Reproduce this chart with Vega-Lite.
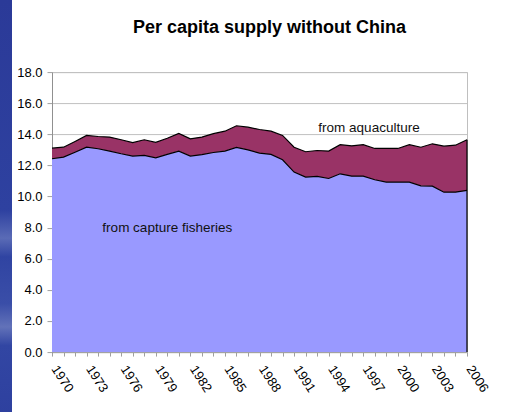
{
  "$schema": "https://vega.github.io/schema/vega-lite/v6.json",
  "background": "white",
  "padding": 0,
  "spacing": 4,
  "center": true,
  "config": {
    "font": "Liberation Sans",
    "axis": {"labelFont": "Liberation Sans", "labelColor": "#000000", "labelFontSize": 13}
  },
  "hconcat": [
    {
      "width": 12,
      "height": 467,
      "view": {"stroke": null},
      "data": {"values": [{}]},
      "mark": {
        "type": "rect",
        "strokeWidth": 0,
        "fill": {
          "gradient": "linear",
          "x1": 0, "y1": 0, "x2": 0, "y2": 1,
          "stops": [
            {"offset": 0, "color": "#2b3a98"},
            {"offset": 0.45, "color": "#2e41a0"},
            {"offset": 0.51, "color": "#5a6bb6"},
            {"offset": 0.55, "color": "#3044a2"},
            {"offset": 0.65, "color": "#3a4ea8"},
            {"offset": 0.7, "color": "#6272b9"},
            {"offset": 0.74, "color": "#3246a3"},
            {"offset": 1, "color": "#2b3c9c"}
          ]
        }
      },
      "encoding": {}
    },
    {
      "width": 415,
      "height": 280,
      "view": {"stroke": "#bfbfbf"},
      "title": {
        "text": "Per capita supply without China",
        "font": "Liberation Sans",
        "fontSize": 18,
        "fontWeight": "bold",
        "color": "#000000",
        "anchor": "middle",
        "frame": "group",
        "baseline": "alphabetic",
        "offset": 15,
        "dx": 10
      },
      "data": {
        "values": [
          {"year": 1970, "capture": 12.43, "total": 13.11},
          {"year": 1971, "capture": 12.53, "total": 13.17},
          {"year": 1972, "capture": 12.85, "total": 13.54},
          {"year": 1973, "capture": 13.17, "total": 13.93},
          {"year": 1974, "capture": 13.07, "total": 13.86},
          {"year": 1975, "capture": 12.92, "total": 13.82},
          {"year": 1976, "capture": 12.75, "total": 13.65},
          {"year": 1977, "capture": 12.6, "total": 13.46},
          {"year": 1978, "capture": 12.64, "total": 13.65},
          {"year": 1979, "capture": 12.49, "total": 13.48},
          {"year": 1980, "capture": 12.71, "total": 13.75},
          {"year": 1981, "capture": 12.92, "total": 14.06},
          {"year": 1982, "capture": 12.6, "total": 13.71},
          {"year": 1983, "capture": 12.69, "total": 13.82},
          {"year": 1984, "capture": 12.83, "total": 14.04},
          {"year": 1985, "capture": 12.92, "total": 14.2},
          {"year": 1986, "capture": 13.16, "total": 14.55},
          {"year": 1987, "capture": 13.0, "total": 14.46},
          {"year": 1988, "capture": 12.79, "total": 14.31},
          {"year": 1989, "capture": 12.71, "total": 14.2},
          {"year": 1990, "capture": 12.36, "total": 13.93},
          {"year": 1991, "capture": 11.57, "total": 13.17},
          {"year": 1992, "capture": 11.25, "total": 12.88},
          {"year": 1993, "capture": 11.29, "total": 12.96},
          {"year": 1994, "capture": 11.16, "total": 12.92},
          {"year": 1995, "capture": 11.46, "total": 13.33},
          {"year": 1996, "capture": 11.31, "total": 13.26},
          {"year": 1997, "capture": 11.31, "total": 13.33},
          {"year": 1998, "capture": 11.08, "total": 13.09},
          {"year": 1999, "capture": 10.93, "total": 13.09},
          {"year": 2000, "capture": 10.93, "total": 13.09},
          {"year": 2001, "capture": 10.93, "total": 13.33},
          {"year": 2002, "capture": 10.69, "total": 13.17},
          {"year": 2003, "capture": 10.67, "total": 13.39},
          {"year": 2004, "capture": 10.28, "total": 13.24},
          {"year": 2005, "capture": 10.28, "total": 13.3},
          {"year": 2006, "capture": 10.39, "total": 13.65}
        ]
      },
      "encoding": {
        "x": {
          "field": "year",
          "type": "quantitative",
          "scale": {"domain": [1970, 2006], "nice": false, "zero": false},
          "axis": {
            "title": null,
            "grid": false,
            "values": [1970, 1971, 1972, 1973, 1974, 1975, 1976, 1977, 1978, 1979, 1980, 1981, 1982, 1983, 1984, 1985, 1986, 1987, 1988, 1989, 1990, 1991, 1992, 1993, 1994, 1995, 1996, 1997, 1998, 1999, 2000, 2001, 2002, 2003, 2004, 2005, 2006],
            "labelExpr": "(datum.value - 1970) % 3 == 0 ? toString(datum.value) : ''",
            "labelAngle": 57,
            "labelAlign": "left",
            "labelBaseline": "top",
            "labelPadding": 7,
            "labelOffset": 7,
            "labelOverlap": false,
            "labelFlush": false,
            "labelBound": false,
            "tickSize": 4,
            "tickColor": "#a0a0a0",
            "domainColor": "#a0a0a0"
          }
        },
        "y": {
          "field": "capture",
          "type": "quantitative",
          "title": null,
          "scale": {"domain": [0, 18], "nice": false},
          "axis": {
            "values": [0, 2, 4, 6, 8, 10, 12, 14, 16, 18],
            "format": ".1f",
            "grid": true,
            "gridColor": "#c0c0c0",
            "tickSize": 5,
            "tickColor": "#a0a0a0",
            "domainColor": "#909090",
            "labelPadding": 5,
            "labelOverlap": false,
            "labelFlush": false
          }
        }
      },
      "layer": [
        {
          "mark": {"type": "area", "color": "#9999ff"}
        },
        {
          "mark": {"type": "area", "color": "#993366"},
          "encoding": {
            "y": {"field": "total", "type": "quantitative", "title": null},
            "y2": {"field": "capture"}
          }
        },
        {
          "mark": {"type": "line", "color": "#000000", "strokeWidth": 1.2}
        },
        {
          "mark": {"type": "line", "color": "#000000", "strokeWidth": 1.2},
          "encoding": {
            "y": {"field": "total", "type": "quantitative", "title": null}
          }
        },
        {
          "transform": [{"filter": "datum.year == 2006"}],
          "mark": {"type": "rule", "color": "#000000", "strokeWidth": 1.2},
          "encoding": {
            "y": {"field": "total", "type": "quantitative", "title": null},
            "y2": {"datum": 0}
          }
        },
        {
          "data": {
            "values": [
              {"label": "from aquaculture", "year": 1997.5, "value": 14.16},
              {"label": "from capture fisheries", "year": 1980.0, "value": 7.73}
            ]
          },
          "mark": {"type": "text", "font": "Liberation Sans", "fontSize": 13.5, "color": "#111111", "align": "center", "baseline": "alphabetic"},
          "encoding": {
            "y": {"field": "value", "type": "quantitative", "title": null},
            "text": {"field": "label"}
          }
        }
      ]
    }
  ]
}
